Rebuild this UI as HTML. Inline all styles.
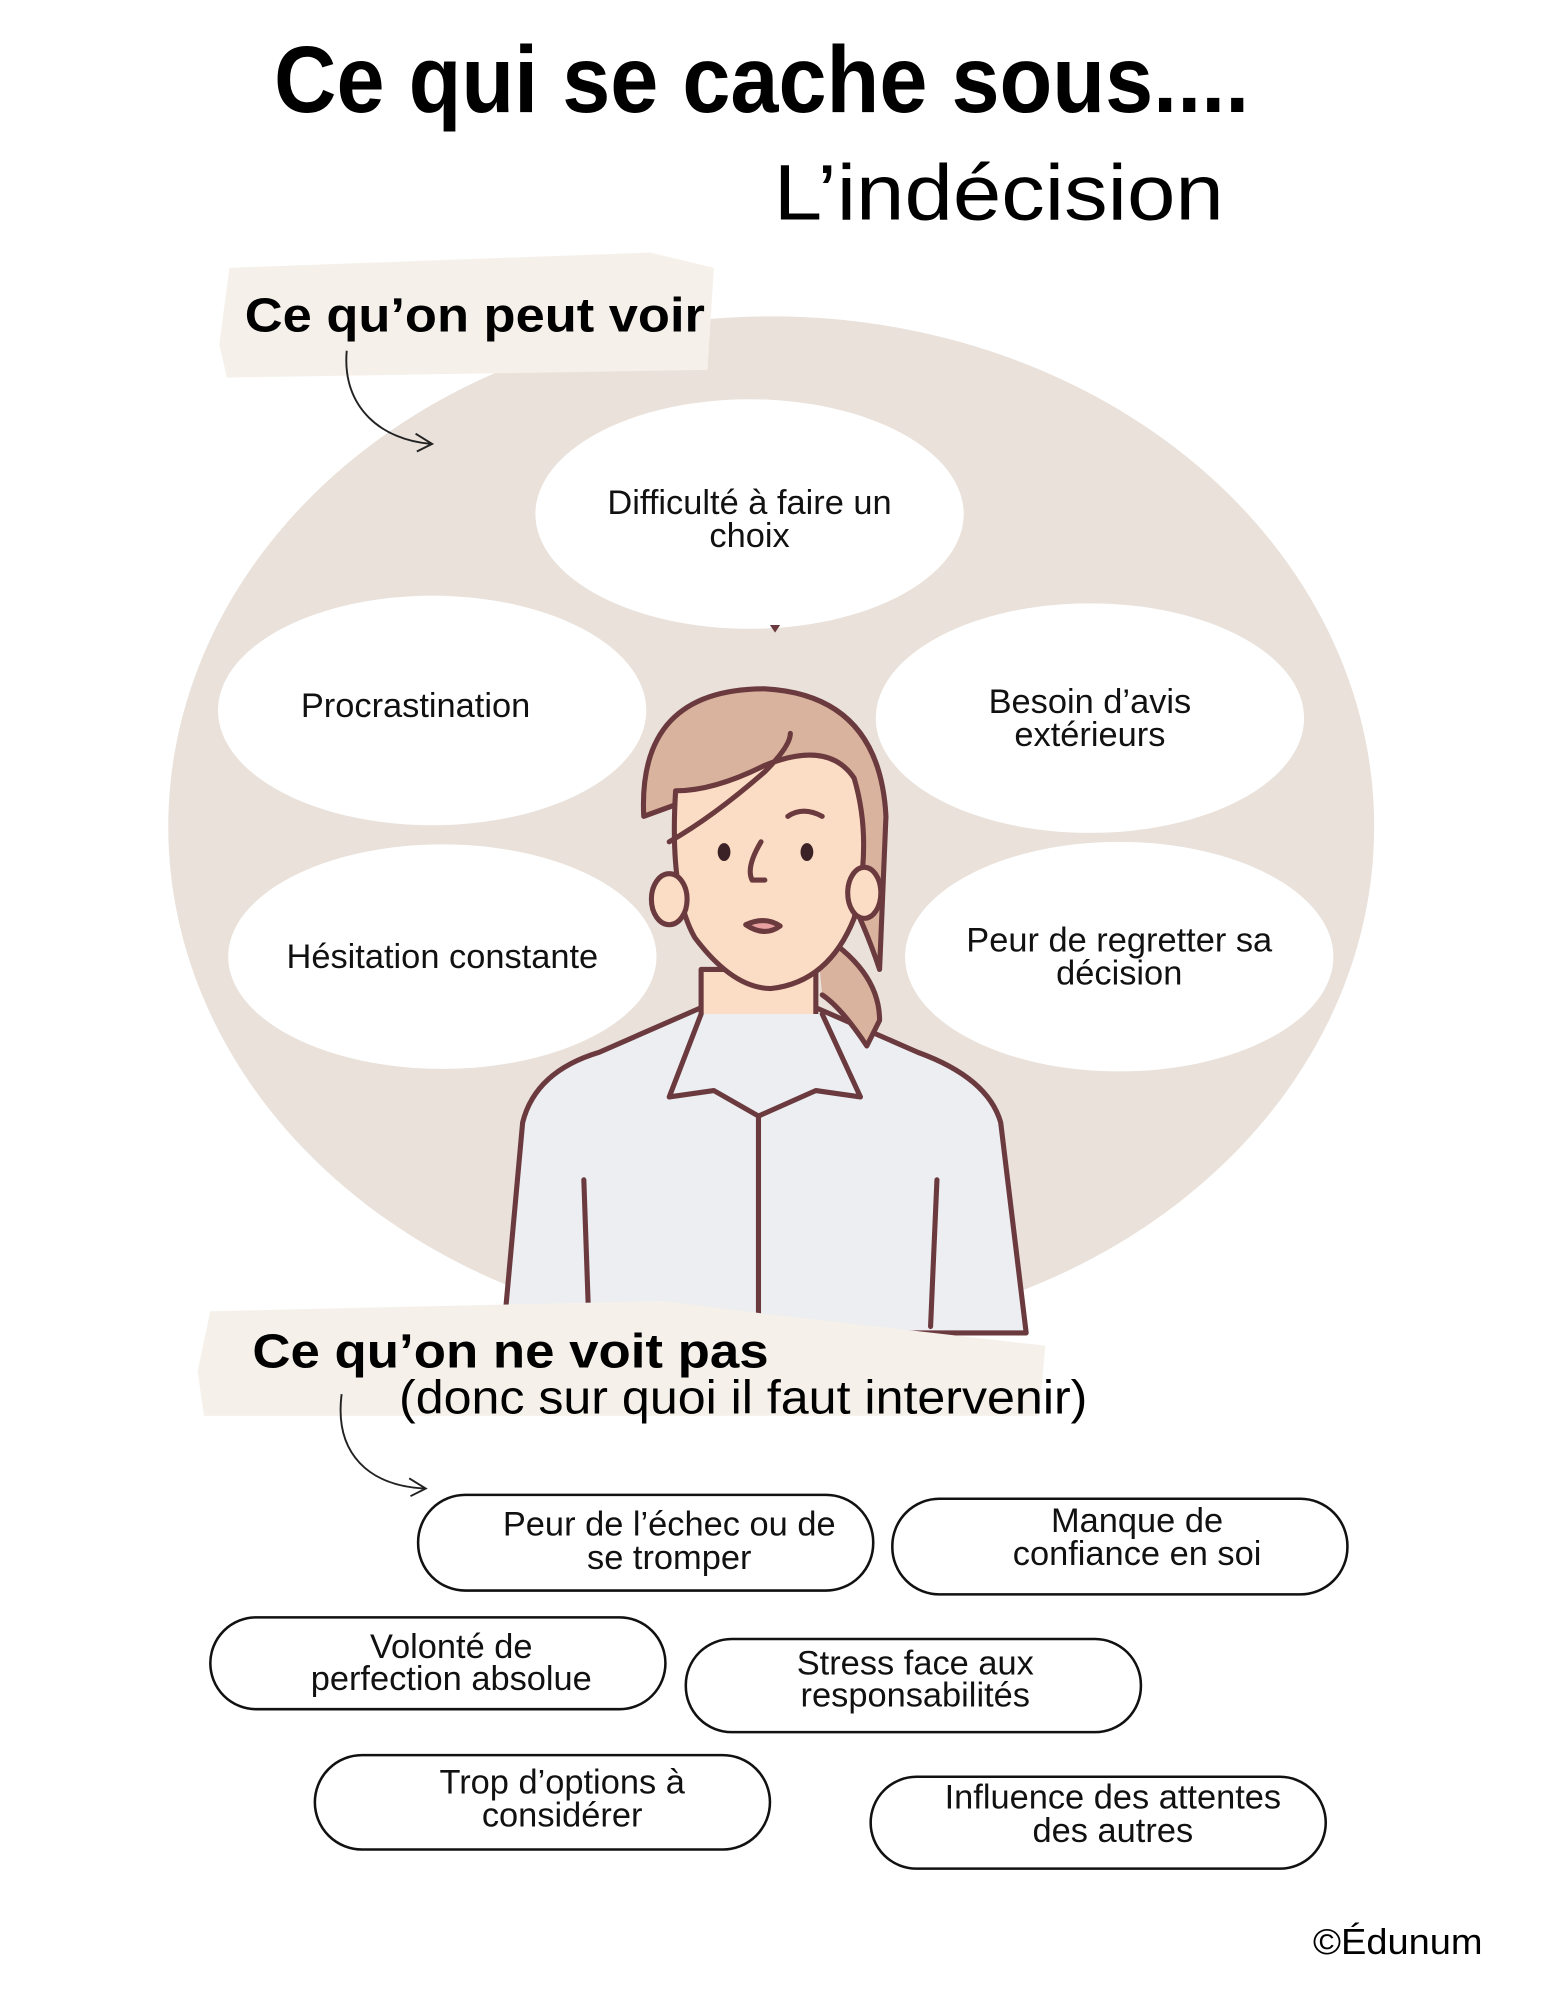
<!DOCTYPE html>
<html><head><meta charset="utf-8"><style>html,body{margin:0;padding:0;background:#fff}svg{display:block}</style></head>
<body>
<svg width="1545" height="2000" viewBox="0 0 1212 1568" preserveAspectRatio="none" xmlns="http://www.w3.org/2000/svg" font-family="Liberation Sans, sans-serif">
<rect width="1212" height="1568" fill="#fff"/>
<text x="215" y="88" font-size="74" font-weight="bold" textLength="765" lengthAdjust="spacingAndGlyphs" fill="#000">Ce qui se cache sous....</text>
<text x="607" y="172" font-size="62" textLength="353" lengthAdjust="spacingAndGlyphs" fill="#000">L’indécision</text>
<ellipse cx="605" cy="648" rx="473" ry="400" fill="#e9e1da"/>
<path d="M180 210 L510 198 L560 210 L555 290 L178 296 L172 270 Z" fill="#f5f1ea"/>
<text x="192" y="260" font-size="38" font-weight="bold" textLength="361" lengthAdjust="spacingAndGlyphs">Ce qu’on peut voir</text>
<path d="M272 275 C268 320 300 345 338 348" fill="none" stroke="#222" stroke-width="1.5"/>
<path d="M326 340 L339 348 L327 354" fill="none" stroke="#222" stroke-width="1.5"/>
<g fill="#fff">
<ellipse cx="588" cy="403" rx="168" ry="90"/>
<ellipse cx="339" cy="557" rx="168" ry="90"/>
<ellipse cx="855" cy="563" rx="168" ry="90"/>
<ellipse cx="347" cy="750" rx="168" ry="88"/>
<ellipse cx="878" cy="750" rx="168" ry="90"/>
</g>
<g font-size="27" text-anchor="middle" fill="#111">
<text x="588" y="403">Difficulté à faire un</text><text x="588" y="429">choix</text>
<text x="326" y="562">Procrastination</text>
<text x="855" y="559">Besoin d’avis</text><text x="855" y="585">extérieurs</text>
<text x="347" y="759">Hésitation constante</text>
<text x="878" y="746">Peur de regretter sa</text><text x="878" y="772">décision</text>
</g>
<!-- woman -->
<g stroke="#6b3a3e" stroke-width="4" stroke-linecap="round" stroke-linejoin="round">
<path d="M395 1045 L410 880 Q420 840 470 825 L550 790 L640 790 L720 825 Q775 845 785 880 L805 1045 Z" fill="#eceef2"/>
<path d="M505 640 Q500 540 600 540 Q690 545 695 640 L690 760 Q670 700 640 660 L560 620 Z" fill="#d9b39d"/>
<path d="M640 730 Q690 760 690 800 L680 820 Q660 790 645 780" fill="#d9b39d"/>
<path d="M550 760 L550 800 Q595 830 640 800 L640 760 Z" fill="#fbdcc4"/>
<path d="M530 620 Q525 700 545 735 Q575 775 605 775 Q650 770 670 720 Q685 660 670 610 Q650 580 600 600 Q560 620 530 620 Z" fill="#fbdcc4"/>
<ellipse cx="525" cy="705" rx="14" ry="20" fill="#fbdcc4"/>
<ellipse cx="678" cy="700" rx="13" ry="20" fill="#fbdcc4"/>
<path d="M525 660 Q560 640 600 605 Q620 585 620 575" fill="none"/>
<path d="M550 795 L525 860 L560 855 L595 875 L640 855 L675 860 L645 795" fill="#eceef2"/>
<path d="M595 875 L595 1045" fill="none"/>
<path d="M458 925 L462 1040 M735 925 L730 1040" fill="none"/>
<path d="M618 640 Q630 632 645 640" fill="none"/>
<path d="M597 660 Q585 680 590 690 L600 690" fill="none"/>
<path d="M585 725 Q600 718 612 726 Q600 735 585 725 Z" fill="#e8a0a0"/>
</g>
<ellipse cx="568" cy="668" rx="5" ry="7" fill="#3a2226"/>
<ellipse cx="633" cy="668" rx="5" ry="7" fill="#3a2226"/>
<path d="M604 490 L612 490 L608 496 Z" fill="#6b3a3e"/>
<!-- section 2 -->
<path d="M165 1028 L520 1020 L600 1030 L820 1055 L815 1110 L160 1110 L155 1075 Z" fill="#f5f1ea"/>
<text x="198" y="1072" font-size="38" font-weight="bold" textLength="405" lengthAdjust="spacingAndGlyphs">Ce qu’on ne voit pas</text>
<text x="313" y="1108" font-size="37" textLength="540" lengthAdjust="spacingAndGlyphs">(donc sur quoi il faut intervenir)</text>
<path d="M268 1093 C262 1140 290 1165 333 1167" fill="none" stroke="#222" stroke-width="1.5"/>
<path d="M321 1159 L334 1167 L322 1173" fill="none" stroke="#222" stroke-width="1.5"/>
<g fill="#fff" stroke="#111" stroke-width="2">
<rect x="328" y="1172" width="357" height="75" rx="37"/>
<rect x="700" y="1175" width="357" height="75" rx="37"/>
<rect x="165" y="1268" width="357" height="72" rx="36"/>
<rect x="538" y="1285" width="357" height="73" rx="36"/>
<rect x="247" y="1376" width="357" height="74" rx="37"/>
<rect x="683" y="1393" width="357" height="72" rx="36"/>
</g>
<g font-size="27" text-anchor="middle" fill="#111">
<text x="525" y="1204">Peur de l’échec ou de</text><text x="525" y="1230">se tromper</text>
<text x="892" y="1201">Manque de</text><text x="892" y="1227">confiance en soi</text>
<text x="354" y="1300">Volonté de</text><text x="354" y="1325">perfection absolue</text>
<text x="718" y="1313">Stress face aux</text><text x="718" y="1338">responsabilités</text>
<text x="441" y="1406">Trop d’options à</text><text x="441" y="1432">considérer</text>
<text x="873" y="1418">Influence des attentes</text><text x="873" y="1444">des autres</text>
</g>
<text x="1030" y="1532" font-size="28" textLength="133" lengthAdjust="spacingAndGlyphs">©Édunum</text>
</svg>
</body></html>
